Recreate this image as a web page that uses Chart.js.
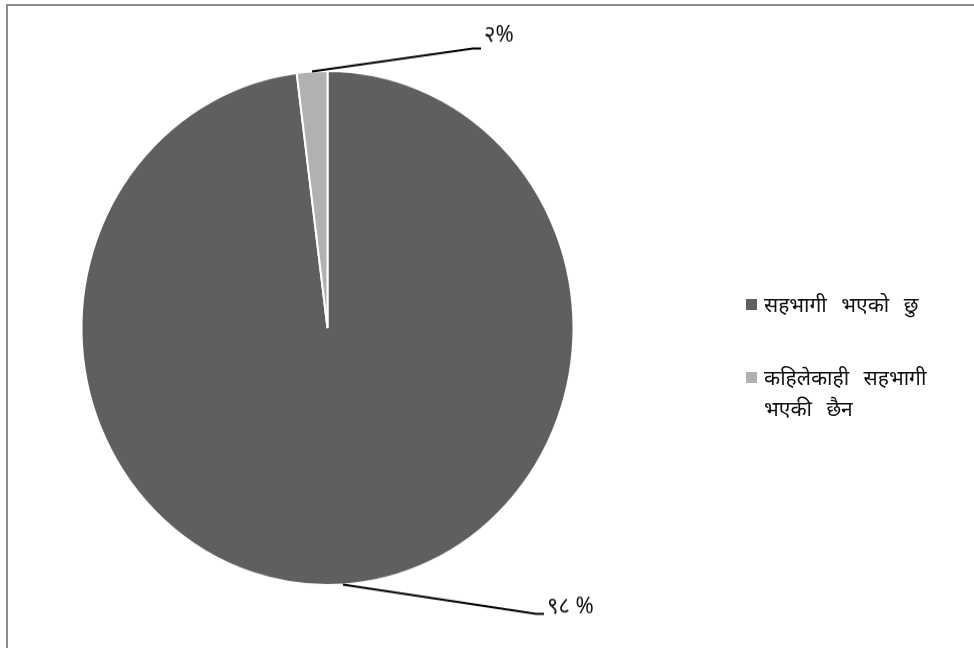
<!DOCTYPE html>
<html>
<head>
<meta charset="utf-8">
<script src="https://cdn.jsdelivr.net/npm/chart.js@4.4.0/dist/chart.umd.min.js"></script>
<style>
    html, body { margin: 0; padding: 0; background: #fff; overflow: hidden; }
    #frame {
        position: absolute; left: 6px; top: 4px; width: 1000px; height: 700px;
        border-left: 2px solid #8c8c8c; border-top: 2px solid #8c8c8c;
    }
    #wrap {
        position: absolute; left: 0; top: 0; width: 974px; height: 648px;
        transform: scaleY(1.045); transform-origin: 0 328px;
    }
    #legend {
        position: absolute; left: 746px; top: 289px; width: 215px;
        font-family: "Noto Sans", "DejaVu Sans", serif; font-size: 21px; color: #111;
        word-spacing: 9px;
    }
    .item { display: flex; align-items: flex-start; margin-bottom: 42px; line-height: 31px; }
    .box { width: 11px; height: 11px; margin: 10px 7px 0 0; flex: none; }
</style>
</head>
<body>
<div id="frame"></div>
<div id="wrap"><canvas id="chartPie" width="974" height="648"></canvas></div>
<div id="legend"></div>
<script>
// data
var categories = ["सहभागी भएको छु", "कहिलेकाही सहभागी भएकी छैन"];
var values = [98, 2];
var valueLabels = ["९८ %", "२%"];
var colors = ["#5f5f5f", "#b1b1b1"];

// leader line end offsets from the slice edge (px) and label lift, per slice
var leaderOffsets = [[193, 28], [161, -22]];
var labelLift = [7, 13];

var labelPlugin = {
    id: "leaderLabels",
    afterDatasetsDraw: function (chart) {
        var ctx = chart.ctx;
        var meta = chart.getDatasetMeta(0);
        ctx.save();
        meta.data.forEach(function (arc, i) {
            var mid = (arc.startAngle + arc.endAngle) / 2;
            var x0 = arc.x + Math.cos(mid) * arc.outerRadius;
            var y0 = arc.y + Math.sin(mid) * arc.outerRadius;
            var x1 = x0 + leaderOffsets[i][0];
            var y1 = y0 + leaderOffsets[i][1];
            ctx.strokeStyle = "#000";
            ctx.lineWidth = 2;
            ctx.beginPath();
            ctx.moveTo(x0, y0);
            ctx.lineTo(x1, y1);
            ctx.lineTo(x1 + 8, y1);
            ctx.stroke();
            ctx.fillStyle = "#111";
            ctx.font = '22px "Noto Sans", "DejaVu Sans", serif';
            ctx.textBaseline = "middle";
            ctx.textAlign = "left";
            ctx.fillText(valueLabels[i], x1 + 11, y1 - labelLift[i]);
        });
        ctx.restore();
    },
};

var chart = new Chart(document.getElementById("chartPie"), {
    type: "pie",
    data: {
        labels: categories,
        datasets: [
            {
                data: values,
                backgroundColor: colors,
                borderColor: "#ffffff",
                borderWidth: 2,
            },
        ],
    },
    options: {
        responsive: false,
        animation: false,
        rotation: 0,
        layout: { padding: { left: 80, top: 81, right: 399, bottom: 73 } },
        plugins: {
            legend: { display: false },
            tooltip: { enabled: false },
        },
    },
    plugins: [labelPlugin],
});

// legend
var legend = document.getElementById("legend");
categories.forEach(function (c, i) {
    var item = document.createElement("div");
    item.className = "item";
    item.innerHTML = '<span class="box" style="background:' + colors[i] + '"></span><span>' + c + "</span>";
    legend.appendChild(item);
});
</script>
</body>
</html>
